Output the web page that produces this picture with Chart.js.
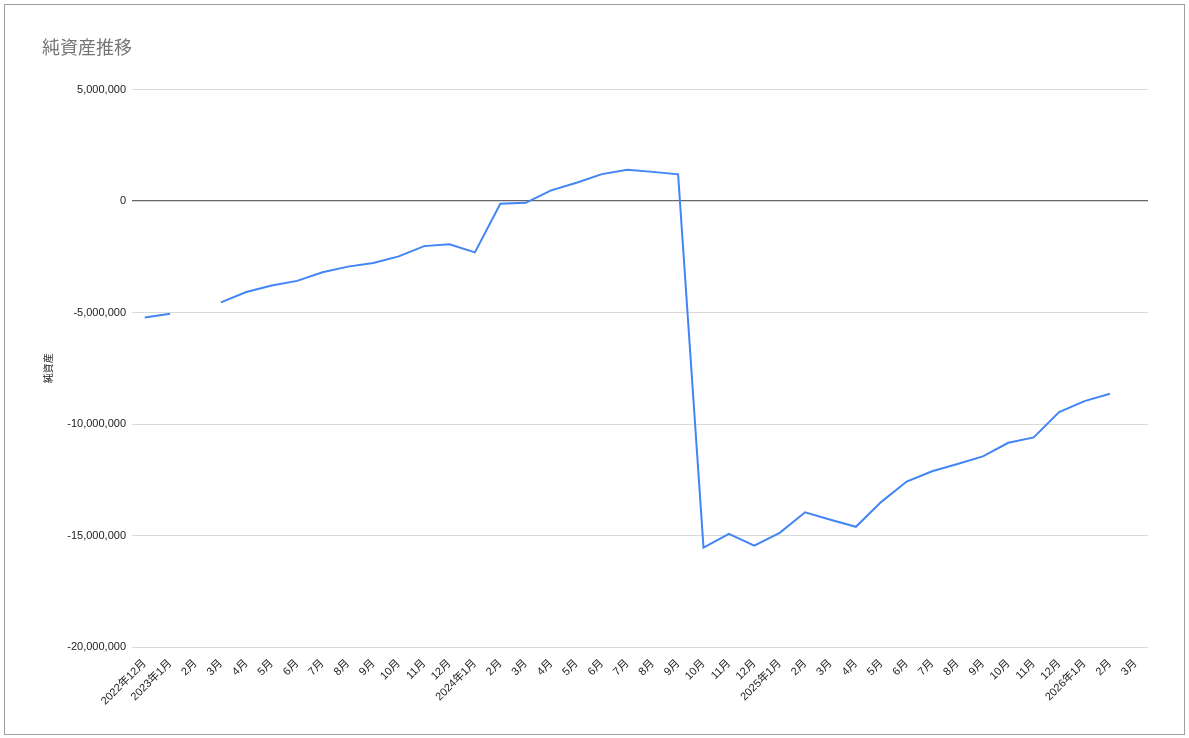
<!DOCTYPE html>
<html>
<head>
<meta charset="utf-8">
<script src="https://cdn.jsdelivr.net/npm/chart.js@4.4.1/dist/chart.umd.min.js"></script>
<style>
  html, body { margin: 0; padding: 0; background: #fff; }
  #wrap { position: absolute; left: 0; top: 0; width: 1189px; height: 738px; }
  #frame { position: absolute; left: 4px; top: 4px; width: 1179px; height: 729px; border: 1px solid #9e9e9e; pointer-events: none; }
</style>
</head>
<body>
<div id="wrap"><canvas id="c" width="1189" height="738"></canvas></div>
<div id="frame"></div>
<script>
const chartTitle = '純資産推移';
const yAxisTitle = '純資産';
const categories = [
  '2022年12月', '2023年1月', '2月', '3月', '4月', '5月', '6月', '7月', '8月', '9月', '10月', '11月', '12月',
  '2024年1月', '2月', '3月', '4月', '5月', '6月', '7月', '8月', '9月', '10月', '11月', '12月',
  '2025年1月', '2月', '3月', '4月', '5月', '6月', '7月', '8月', '9月', '10月', '11月', '12月',
  '2026年1月', '2月', '3月'
];
const netAssets = [
  -5220000, -5050000, null, -4540000, -4080000, -3790000, -3580000, -3190000, -2940000, -2780000, -2480000, -2020000, -1940000,
  -2300000, -120000, -80000, 480000, 820000, 1210000, 1400000, 1310000, 1200000, -15540000, -14930000, -15450000,
  -14880000, -13960000, -14290000, -14610000, -13490000, -12580000, -12120000, -11790000, -11450000, -10840000, -10600000, -9460000,
  -8970000, -8640000, null
];
const yTicks = [5000000, 0, -5000000, -10000000, -15000000, -20000000];

const fontFamily = "'Liberation Sans', Arial, 'Noto Sans CJK JP', sans-serif";

new Chart(document.getElementById('c'), {
  type: 'line',
  data: {
    labels: categories,
    datasets: [{
      label: yAxisTitle,
      data: netAssets,
      borderColor: '#4285F4',
      backgroundColor: '#4285F4',
      borderWidth: 2,
      pointRadius: 0,
      pointHoverRadius: 0,
      tension: 0,
      spanGaps: false
    }]
  },
  options: {
    responsive: false,
    animation: false,
    devicePixelRatio: 1,
    layout: { padding: { left: 42, right: 41, top: 36, bottom: 10 } },
    plugins: {
      legend: { display: false },
      tooltip: { enabled: false },
      title: {
        display: true,
        text: chartTitle,
        align: 'start',
        color: '#757575',
        font: { family: "'Noto Sans CJK JP', sans-serif", size: 18, weight: 'normal' },
        padding: { top: 0, bottom: 32 }
      }
    },
    scales: {
      x: {
        offset: true,
        border: { display: false },
        grid: { display: false },
        ticks: {
          autoSkip: false,
          maxRotation: 45,
          minRotation: 45,
          padding: 2,
          color: '#222',
          font: { family: fontFamily, size: 11 }
        },
        afterFit: (s) => { s.height = 81; }
      },
      y: {
        min: -20000000,
        max: 5000000,
        border: { display: false },
        afterBuildTicks: (s) => { s.ticks = yTicks.map(v => ({ value: v })); },
        grid: {
          drawTicks: false,
          color: (ctx) => (ctx.tick && ctx.tick.value === 0) ? '#666666' : '#d9d9d9',
          lineWidth: (ctx) => (ctx.tick && ctx.tick.value === 0) ? 1.2 : 1
        },
        ticks: {
          padding: 6,
          color: '#222',
          font: { family: fontFamily, size: 11 },
          callback: (v) => Number(v).toLocaleString('en-US')
        },
        title: {
          display: true,
          text: yAxisTitle,
          color: '#222',
          font: { family: "'Noto Sans CJK JP', sans-serif", size: 10 },
          padding: { top: 0, bottom: 0 }
        },
        afterFit: (s) => { s.width = 90; }
      }
    }
  }
});
</script>
</body>
</html>
